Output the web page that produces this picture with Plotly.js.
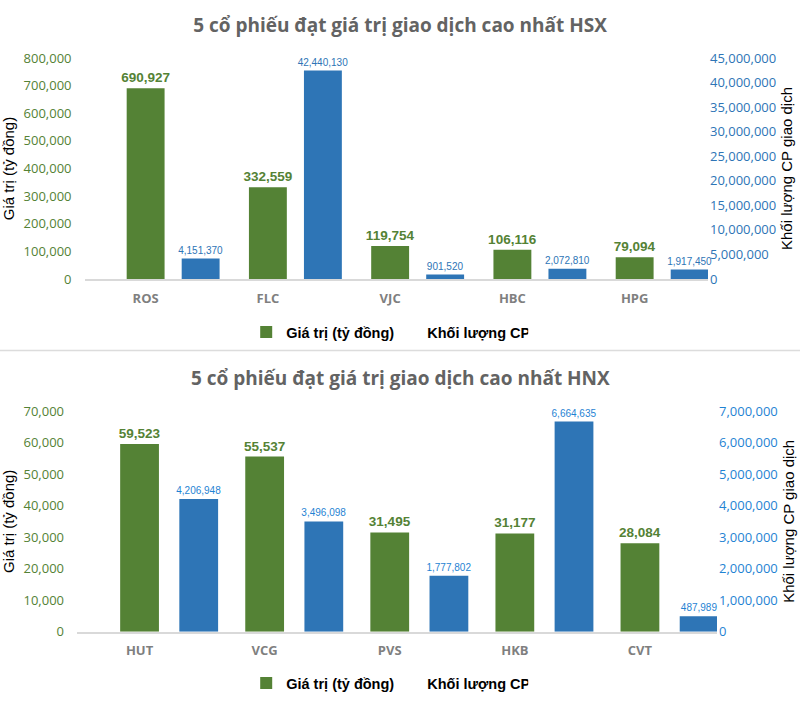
<!DOCTYPE html>
<html>
<head>
<meta charset="utf-8">
<script src="https://cdn.plot.ly/plotly-3.0.1.min.js"></script>
<style>html,body{margin:0;padding:0;background:#fff;}#chart{width:800px;height:724px;}</style>
</head>
<body>
<div id="chart"></div>
<script>
// ---- Data ----
const hsxTitle = "5 cổ phiếu đạt giá trị giao dịch cao nhất HSX";
const hnxTitle = "5 cổ phiếu đạt giá trị giao dịch cao nhất HNX";
const hsxCodes = ["ROS", "FLC", "VJC", "HBC", "HPG"];
const hsxValue = [690927, 332559, 119754, 106116, 79094];
const hsxVolume = [4151370, 42440130, 901520, 2072810, 1917450];
const hnxCodes = ["HUT", "VCG", "PVS", "HKB", "CVT"];
const hnxValue = [59523, 55537, 31495, 31177, 28084];
const hnxVolume = [4206948, 3496098, 1777802, 6664635, 487989];
const seriesValueName = "Giá trị (tỷ đồng)";
const seriesVolumeName = "Khối lượng CP";
const leftAxisTitle = "Giá trị (tỷ đồng)";
const rightAxisTitle = "Khối lượng CP giao dịch";

// ---- Styles ----
const GREEN = "#548235";
const BLUE = "#2e75b6";
const BLUE2 = "#1f83d3";
const labelFont = "'Liberation Sans', Arial, sans-serif";
const tickFont = "'Open Sans', sans-serif";
const H = 724;
const py = p => 1 - p / H;

function greenTrace(x, y, xa, ya, legend) {
  return {
    type: "bar", x: x, y: y, xaxis: xa, yaxis: ya, name: seriesValueName,
    legend: legend,
    marker: { color: GREEN, line: { width: 0 } },
    offset: -0.155, width: 0.31,
    texttemplate: "%{y:,}", textposition: "outside", cliponaxis: false,
    constraintext: "none",
    textfont: { family: labelFont, size: 13.5, color: GREEN, weight: "bold" },
    hoverinfo: "x+y"
  };
}
function blueTrace(x, y, xa, ya, off, color) {
  return {
    type: "bar", x: x, y: y, xaxis: xa, yaxis: ya, name: seriesVolumeName,
    showlegend: false,
    marker: { color: BLUE, line: { width: 0 } },
    offset: off, width: 0.31,
    texttemplate: "%{y:,}", textposition: "outside", cliponaxis: false,
    constraintext: "none",
    textfont: { family: labelFont, size: 10, color: color },
    hoverinfo: "x+y"
  };
}
// Legend-only entry: the reference legend shows the volume series name without a swatch
function volumeLegendEntry(cats, xa, ya, legend) {
  return {
    type: "bar", x: [cats[0]], y: [0], xaxis: xa, yaxis: ya, name: seriesVolumeName,
    legend: legend, showlegend: true,
    marker: { color: "rgba(0,0,0,0)", line: { width: 0 } },
    offset: 0, width: 0.01,
    hoverinfo: "skip"
  };
}

const data = [
  greenTrace(hsxCodes, hsxValue, "x", "y", "legend"),
  blueTrace(hsxCodes, hsxVolume, "x", "y2", 0.295, BLUE),
  volumeLegendEntry(hsxCodes, "x", "y2", "legend"),
  greenTrace(hnxCodes, hnxValue, "x2", "y3", "legend2"),
  blueTrace(hnxCodes, hnxVolume, "x2", "y4", 0.318, BLUE2),
  volumeLegendEntry(hnxCodes, "x2", "y4", "legend2")
];

const xCommon = {
  type: "category", showgrid: false, zeroline: false, ticks: "",
  showline: true, linecolor: "#d9d9d9", linewidth: 2, fixedrange: true,
  tickfont: { family: tickFont, size: 13, color: "#7f7f7f", weight: "bold" },
  ticklabelstandoff: 6
};
function yAxis(extra, color, side) {
  return Object.assign({
    showgrid: false, zeroline: false, showline: false, ticks: "",
    tickformat: ",d", side: side, fixedrange: true,
    tickfont: { family: tickFont, size: 13, color: color },
    title: { text: side === "left" ? leftAxisTitle : rightAxisTitle,
             font: { family: "'Liberation Sans', Arial, sans-serif", size: 15, color: "#000" },
             standoff: side === "left" ? 5 : 6 }
  }, extra);
}

const legendFont = { family: "'Liberation Sans', Arial, sans-serif", size: 14.5, color: "#000", weight: "bold" };

const layout = {
  width: 800, height: 724,
  margin: { l: 0, r: 0, t: 0, b: 0 },
  paper_bgcolor: "#fff", plot_bgcolor: "#fff",
  barmode: "overlay",
  showlegend: true,
  title: { text: hsxTitle, x: 0.5, xanchor: "center", y: py(25), yanchor: "middle",
           font: { family: "'Open Sans', sans-serif", size: 19, color: "#636363", weight: "bold" } },
  xaxis: Object.assign({}, xCommon, { domain: [84.5 / 800, 708 / 800], range: [-0.5, 4.6], anchor: "y" }),
  yaxis: yAxis({ domain: [py(279), py(58)], range: [0, 800000], dtick: 100000, anchor: "x", ticklabelstandoff: 12 }, GREEN, "left"),
  yaxis2: yAxis({ overlaying: "y", range: [0, 45000000], dtick: 5000000, anchor: "x", ticklabelstandoff: 1 }, BLUE, "right"),
  xaxis2: Object.assign({}, xCommon, { domain: [77 / 800, 717 / 800], range: [-0.5, 4.616], anchor: "y3" }),
  yaxis3: yAxis({ domain: [py(631.7), py(411)], range: [0, 70000], dtick: 10000, anchor: "x2", ticklabelstandoff: 12 }, GREEN, "left"),
  yaxis4: yAxis({ overlaying: "y3", range: [0, 7000000], dtick: 1000000, anchor: "x2", ticklabelstandoff: 1 }, BLUE2, "right"),
  legend: { orientation: "h", x: 0.484, xanchor: "center", y: py(332), yanchor: "middle",
            font: legendFont, itemwidth: 30, entrywidth: 96, bgcolor: "rgba(0,0,0,0)" },
  legend2: { orientation: "h", x: 0.484, xanchor: "center", y: py(683), yanchor: "middle",
             font: legendFont, itemwidth: 30, entrywidth: 96, bgcolor: "rgba(0,0,0,0)" },
  annotations: [
    { text: hnxTitle, xref: "paper", yref: "paper", x: 0.5, y: py(378), xanchor: "center", yanchor: "middle",
      showarrow: false, font: { family: "'Open Sans', sans-serif", size: 19, color: "#636363", weight: "bold" } }
  ],
  shapes: [
    { type: "line", xref: "paper", yref: "paper", x0: 0, x1: 1, y0: py(350.5), y1: py(350.5),
      line: { color: "#dcdcdc", width: 1.5 } }
  ]
};

Plotly.newPlot("chart", data, layout, { displayModeBar: false, staticPlot: true });
</script>
</body>
</html>
